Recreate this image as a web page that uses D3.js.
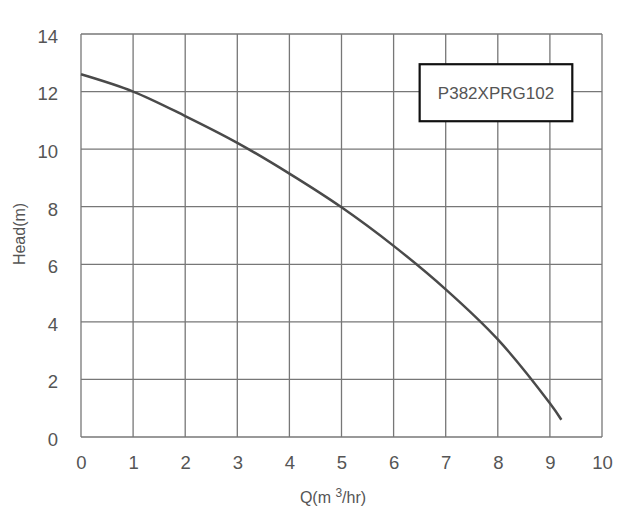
<!DOCTYPE html>
<html><head><meta charset="utf-8">
<script src="https://cdn.jsdelivr.net/npm/d3@7"></script>
<style>body{margin:0;background:#fff;} svg{display:block;}</style>
</head><body>
<script>
const flowQ = [0, 1, 2, 3, 4, 5, 6, 7, 8, 9, 9.22];
const headH = [12.6, 12.0, 11.15, 10.22, 9.15, 7.98, 6.64, 5.13, 3.39, 1.17, 0.6];
const xTicks = [0,1,2,3,4,5,6,7,8,9,10];
const yTicks = [0,2,4,6,8,10,12,14];
const modelName = "P382XPRG102";

const W = 637, H = 517;
const m = {left: 81, right: 35, top: 34, bottom: 80};
const svg = d3.select("body").append("svg").attr("width", W).attr("height", H);
const x = d3.scaleLinear().domain([0,10]).range([m.left, W - m.right]);
const y = d3.scaleLinear().domain([0,14]).range([H - m.bottom, m.top]);
const font = "Liberation Sans, Arial, sans-serif";
const gridColor = "#777";

// grid
const g = svg.append("g");
g.selectAll(".vx").data(xTicks).join("line")
  .attr("x1", d => x(d)).attr("x2", d => x(d))
  .attr("y1", y(0)).attr("y2", y(14))
  .attr("stroke", gridColor).attr("stroke-width", 1.3);
g.selectAll(".hy").data(yTicks).join("line")
  .attr("y1", d => y(d)).attr("y2", d => y(d))
  .attr("x1", x(0)).attr("x2", x(10))
  .attr("stroke", gridColor).attr("stroke-width", 1.3);

// axes labels via d3 axes
const xa = svg.append("g").attr("transform", `translate(0,${y(0)})`)
  .call(d3.axisBottom(x).tickValues(xTicks).tickSize(0).tickPadding(19).tickFormat(d3.format("d")));
xa.select(".domain").remove();
xa.selectAll("text").attr("font-family", font).attr("font-size", 18.5).attr("fill", "#555");

const ya = svg.append("g").attr("transform", `translate(${x(0)},0)`)
  .call(d3.axisLeft(y).tickValues(yTicks).tickSize(0).tickPadding(23).tickFormat(d3.format("d")));
ya.select(".domain").remove();
ya.selectAll("text").attr("font-family", font).attr("font-size", 18.5).attr("fill", "#555")
  .attr("dy", "0.45em");

// curve
const pts = flowQ.map((q, i) => [q, headH[i]]);
svg.append("path").datum(pts)
  .attr("d", d3.line().x(d => x(d[0])).y(d => y(d[1])).curve(d3.curveCatmullRom.alpha(0.5)))
  .attr("fill", "none").attr("stroke", "#4a4a4a").attr("stroke-width", 2.5);

// legend box
const bx = x(6.5), by = y(12.95), bw = x(9.43) - x(6.5), bh = y(10.97) - y(12.95);
svg.append("rect").attr("x", bx).attr("y", by).attr("width", bw).attr("height", bh)
  .attr("fill", "#fff").attr("stroke", "#111").attr("stroke-width", 2.2);
svg.append("text").attr("x", bx + bw/2).attr("y", by + bh/2 + 6)
  .attr("text-anchor", "middle").attr("font-family", font).attr("font-size", 17)
  .attr("fill", "#555").text(modelName);

// axis titles
const xt = svg.append("text").attr("x", 333).attr("y", 503).attr("text-anchor", "middle")
  .attr("font-family", font).attr("font-size", 16).attr("fill", "#555");
xt.append("tspan").text("Q(m ");
xt.append("tspan").attr("dy", -6).attr("font-size", 12).text("3");
xt.append("tspan").attr("dy", 6).text("/hr)");

svg.append("text").attr("transform", `translate(25,234) rotate(-90)`)
  .attr("text-anchor", "middle").attr("font-family", font).attr("font-size", 16)
  .attr("fill", "#555").text("Head(m)");
</script>
</body></html>
